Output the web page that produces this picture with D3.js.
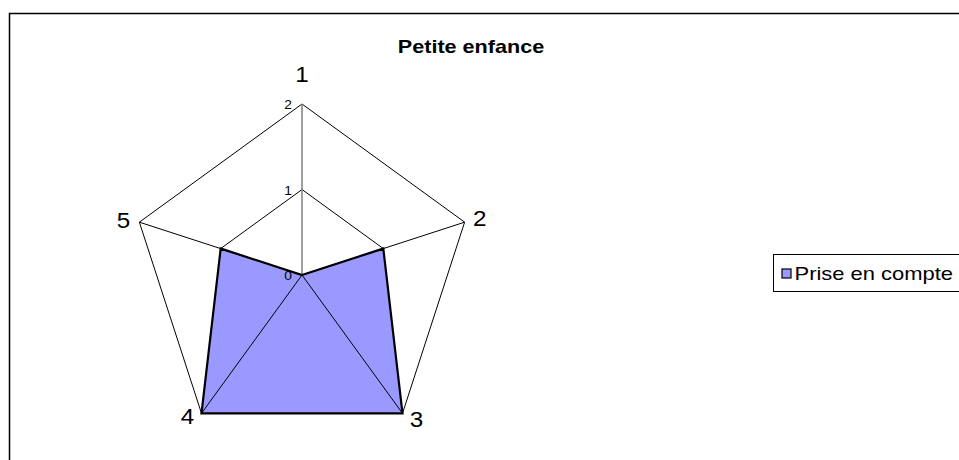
<!DOCTYPE html>
<html>
<head>
<meta charset="utf-8">
<script src="https://cdn.jsdelivr.net/npm/d3@7"></script>
<style>
  body { margin: 0; background: #fff; overflow: hidden; }
  svg { display: block; }
  text { font-family: "Liberation Sans", Arial, sans-serif; }
</style>
</head>
<body>
<script>
var categories = ["1", "2", "3", "4", "5"];
var values = [0, 1, 2, 2, 1];
var ticks = [0, 1, 2];
var seriesName = "Prise en compte";
var title = "Petite enfance";

var width = 959, height = 460;
var cx = 302, cy = 275, radius = 171;

var svg = d3.select("body").append("svg")
    .attr("width", width)
    .attr("height", height);

// text in the source image is stretched horizontally
function stretchedText(parent, str, x, y, size, sx) {
    return parent.append("text")
        .text(str)
        .attr("transform", "translate(" + x + "," + y + ") scale(" + sx + ",1)")
        .attr("font-size", size);
}

// chart frame
svg.append("rect")
    .attr("x", 9.5).attr("y", 13.5)
    .attr("width", 980).attr("height", 480)
    .attr("fill", "none")
    .attr("stroke", "#000")
    .attr("stroke-width", 1.5);

stretchedText(svg, title, 471, 53, 18, 1.2)
    .attr("text-anchor", "middle")
    .attr("font-weight", "bold");

var rScale = d3.scaleLinear().domain([0, 2]).range([0, radius]);
var angle = d3.scalePoint().domain(categories).range([0, 2 * Math.PI * 4 / 5]);

var g = svg.append("g").attr("transform", "translate(" + cx + "," + cy + ")");

var radial = d3.lineRadial()
    .angle(function(d) { return angle(d.cat); })
    .radius(function(d) { return rScale(d.v); })
    .curve(d3.curveLinearClosed);

// grid rings
ticks.slice(1).forEach(function(t) {
    g.append("path")
        .attr("d", radial(categories.map(function(c) { return {cat: c, v: t}; })))
        .attr("fill", "none")
        .attr("stroke", "#000")
        .attr("stroke-width", 1);
});

// data area
var pts = categories.map(function(c, i) { return {cat: c, v: values[i]}; });
g.append("path")
    .attr("d", radial(pts))
    .attr("fill", "#9999ff")
    .attr("stroke", "none");

// spokes
categories.forEach(function(c, i) {
    var a = angle(c);
    g.append("line")
        .attr("x1", 0).attr("y1", 0)
        .attr("x2", rScale(2) * Math.sin(a))
        .attr("y2", -rScale(2) * Math.cos(a))
        .attr("stroke", i === 0 ? "#808080" : "#000")
        .attr("stroke-width", i === 0 ? 1.5 : 1);
});

// data outline
g.append("path")
    .attr("d", radial(pts))
    .attr("fill", "none")
    .attr("stroke", "#000")
    .attr("stroke-width", 2.2)
    .attr("stroke-linejoin", "miter");

// value ticks
ticks.forEach(function(t) {
    stretchedText(g, t, -14, -rScale(t) + 5, 12, 1.15)
        .attr("text-anchor", "middle")
        .attr("fill", "#000");
});

// category labels
var labelOffset = [
    {dx: 0, dy: -22},
    {dx: 15, dy: 4},
    {dx: 14, dy: 14},
    {dx: -14, dy: 11},
    {dx: -16, dy: 6}
];
categories.forEach(function(c, i) {
    var a = angle(c);
    stretchedText(g, c,
        rScale(2) * Math.sin(a) + labelOffset[i].dx,
        -rScale(2) * Math.cos(a) + labelOffset[i].dy, 22, 1.1)
        .attr("text-anchor", "middle");
});

// legend
var lg = svg.append("g").attr("transform", "translate(773.5,254.5)");
lg.append("rect")
    .attr("width", 200).attr("height", 37)
    .attr("fill", "#fff")
    .attr("stroke", "#000")
    .attr("stroke-width", 1);
lg.append("rect")
    .attr("x", 8.5).attr("y", 14.5)
    .attr("width", 9).attr("height", 9)
    .attr("fill", "#9999ff")
    .attr("stroke", "#000")
    .attr("stroke-width", 1.2);
stretchedText(lg, seriesName, 21, 25, 18, 1.22);
</script>
</body>
</html>
